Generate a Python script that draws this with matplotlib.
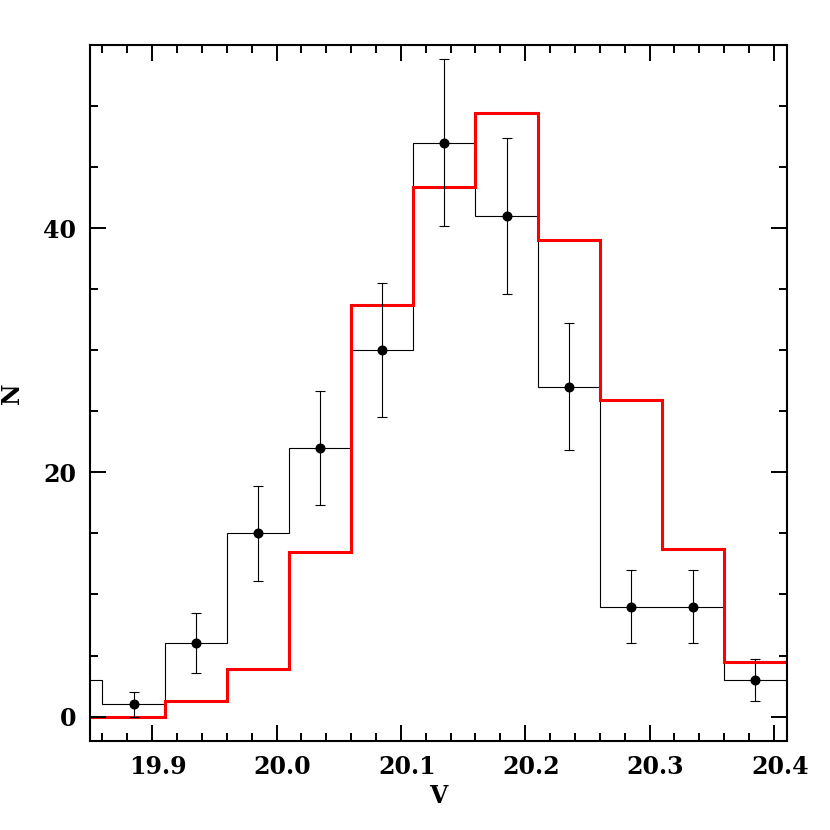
import matplotlib
matplotlib.use("Agg")
import matplotlib.pyplot as plt
import matplotlib.transforms as mtransforms
from matplotlib.ticker import MultipleLocator
import numpy as np

# Data
bin_edges = [19.81, 19.86, 19.91, 19.96, 20.01, 20.06, 20.11, 20.16, 20.21, 20.26, 20.31, 20.36, 20.41]
obs_counts = [3, 1, 6, 15, 22, 30, 47, 41, 27, 9, 9, 3]
model_counts = [0, 0, 1.3, 3.9, 13.5, 33.7, 43.4, 49.4, 39.0, 25.9, 13.7, 4.45]
point_centers = [19.885, 19.935, 19.985, 20.035, 20.085, 20.135, 20.185, 20.235, 20.285, 20.335, 20.385]
point_values = [1, 6, 15, 22, 30, 47, 41, 27, 9, 9, 3]
point_errors = [1.0, 2.45, 3.87, 4.69, 5.48, 6.86, 6.40, 5.20, 3.0, 3.0, 1.73]
x_ticks = [19.9, 20.0, 20.1, 20.2, 20.3, 20.4]
x_ticklabels = ["19.9", "20.0", "20.1", "20.2", "20.3", "20.4"]
y_ticks = [0, 20, 40]
y_ticklabels = ["0", "20", "40"]

plt.rcParams['font.family'] = ['DejaVu Serif']
plt.rcParams['font.weight'] = 'bold'

fig = plt.figure(figsize=(8.3, 8.3), dpi=100)
ax = fig.add_axes([90/830, 1-741/830, (787-90)/830, (741-45)/830])

ax.stairs(obs_counts, bin_edges, color='black', linewidth=0.8, baseline=None)
ax.stairs(model_counts, bin_edges, color='#ff0000', linewidth=2.2, baseline=None)
ax.errorbar(point_centers, point_values, yerr=point_errors, fmt='o', color='black',
            markersize=6.2, elinewidth=0.8, capsize=3.6, capthick=0.8)

ax.set_xlim(19.85, 20.4105)
ax.set_ylim(-2, 55)

ax.set_xticks(x_ticks)
ax.set_xticklabels(x_ticklabels)
ax.set_yticks(y_ticks)
ax.set_yticklabels(y_ticklabels)
ax.xaxis.set_minor_locator(MultipleLocator(0.02))
ax.yaxis.set_minor_locator(MultipleLocator(5))

ax.tick_params(which='both', direction='in', top=True, right=True, width=1.4, labelsize=17)
ax.tick_params(which='major', length=11.5)
ax.tick_params(which='minor', length=5.8)
ax.tick_params(axis='x', pad=10)
ax.tick_params(axis='y', pad=10)
for lab in ax.get_xticklabels():
    lab.set_transform(lab.get_transform() + mtransforms.ScaledTranslation(6/100, 0, fig.dpi_scale_trans))

for sp in ax.spines.values():
    sp.set_linewidth(1.5)

ax.set_xlabel("V", fontsize=17, fontweight='bold', labelpad=4)
ax.set_ylabel("N", fontsize=17, fontweight='bold', labelpad=14)

fig.savefig("out.png", dpi=100)
